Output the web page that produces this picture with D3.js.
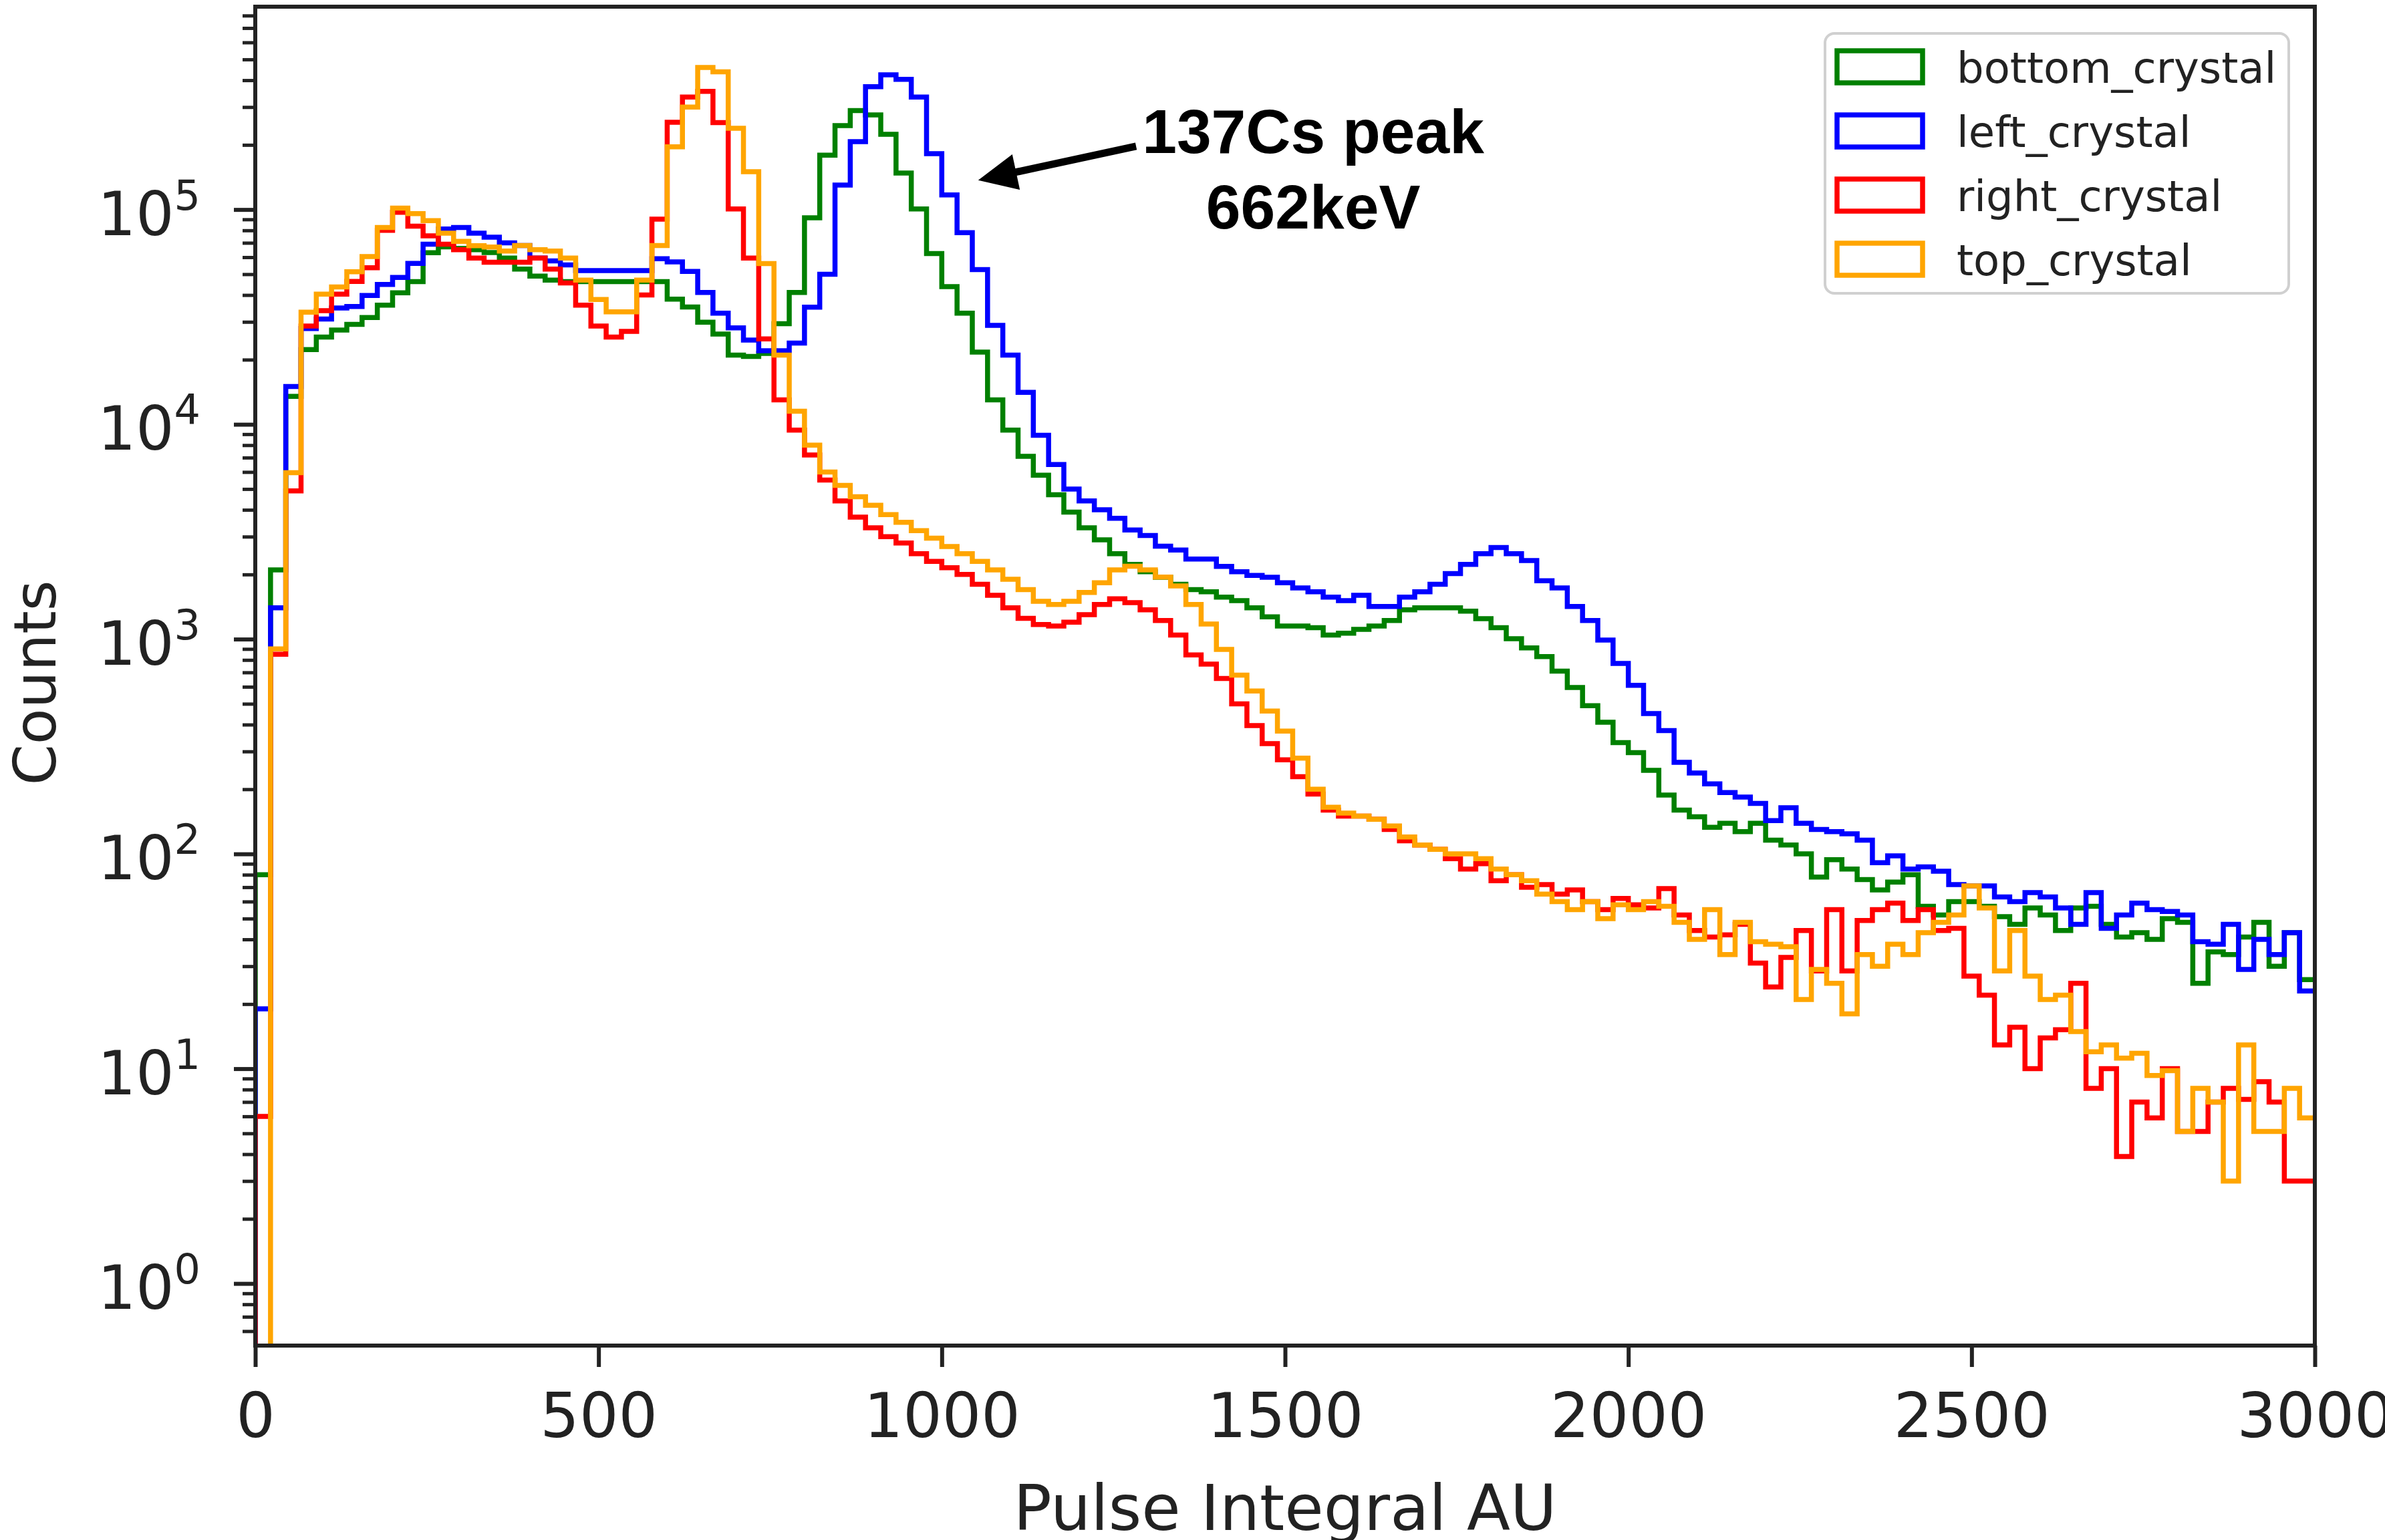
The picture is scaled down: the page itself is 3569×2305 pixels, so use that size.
<!DOCTYPE html>
<html>
<head>
<meta charset="utf-8">
<script src="https://cdn.jsdelivr.net/npm/d3@7"></script>
<style>
  html, body { margin: 0; padding: 0; background: #fff; }
  svg { display: block; }
</style>
</head>
<body>
<div id="chart"></div>
<script>
// histogram counts per bin, bins of 4000/180 AU starting at 0 (only 0..3000 shown)
var binWidth = 4000 / 180;

var bottomCrystal = [
  80, 2100, 13500, 22300, 25500, 27500, 29200, 31400, 35900, 41000,
  46200, 63000, 67000, 66000, 65000, 63100, 59400, 52800, 49000, 46900,
  46200, 46200, 46200, 46200, 46200, 46200, 46200, 38300, 35200, 29900,
  26300, 21000, 20700, 21400, 29400, 41100, 91500, 179000, 246000, 289000,
  276000, 224000, 148000, 100700, 62400, 43800, 32900, 21700, 13000, 9400,
  7100, 5800, 4700, 3900, 3300, 2900, 2500, 2230, 2060, 1940,
  1800, 1700, 1660, 1570, 1510, 1400, 1270, 1150, 1150, 1130,
  1045, 1065, 1110, 1150, 1220, 1370, 1400, 1400, 1400, 1350,
  1245, 1130, 1005, 910, 830, 710, 595, 490, 410, 330,
  296, 245, 188, 160, 149, 133, 139, 127, 139, 116,
  110, 100, 78, 94, 85, 76, 68, 74, 80, 57,
  52, 60, 60, 57, 51, 47, 56, 52, 44, 56,
  57, 47, 41, 43, 40, 50, 48, 25, 35, 34,
  41, 48, 30, 43, 26
];

var leftCrystal = [
  19, 1400, 15000, 27900, 30900, 34800, 35400, 39800, 44800, 48300,
  56100, 69000, 81200, 82500, 77600, 74300, 70000, 68000, 59400, 57700,
  55200, 52000, 52000, 52000, 52000, 52000, 59000, 57000, 51500, 41100,
  32900, 28100, 24700, 22000, 22000, 23900, 35100, 50000, 130000, 207000,
  373000, 424000, 404000, 334000, 182000, 117000, 78000, 52500, 28900, 21000,
  14100, 8900, 6500, 5000, 4400, 4000, 3650, 3220, 3040, 2710,
  2600, 2360, 2360, 2180, 2060, 1980, 1940, 1830, 1730, 1660,
  1570, 1510, 1600, 1420, 1420, 1570, 1660, 1800, 2020, 2230,
  2500, 2670, 2500, 2320, 1870, 1730, 1420, 1220, 990, 770,
  610, 450, 375, 267, 238, 212, 193, 184, 172, 143,
  164, 139, 130, 127, 124, 116, 91, 98, 85, 87,
  83, 72, 71, 71, 63, 60, 66, 63, 56, 47,
  66, 45, 52, 59, 55, 54, 52, 39, 38, 47,
  29, 40, 34, 43, 23
];

var rightCrystal = [
  6, 850, 4900, 28700, 33800, 40400, 46300, 53600, 80000, 97100,
  83700, 75400, 69000, 65000, 59400, 56800, 56800, 56800, 59400, 52800,
  45500, 35900, 28700, 25500, 27100, 40000, 90200, 255000, 334000, 355000,
  254000, 100700, 59400, 25000, 13000, 9400, 7200, 5500, 4400, 3700,
  3300, 3000, 2800, 2500, 2300, 2150, 2000, 1800, 1600, 1400,
  1250, 1170, 1150, 1200, 1300, 1450, 1540, 1480, 1370, 1220,
  1045, 845, 765, 656, 500, 396, 326, 274, 229, 190,
  160, 150, 150, 145, 130, 115, 110, 105, 95, 85,
  90, 75, 80, 70, 72, 65, 68, 60, 55, 62,
  58, 56, 69, 52, 44, 41, 42, 47, 31, 24,
  33, 44, 28.5, 55, 28.5, 49, 55, 59, 49, 55,
  44, 45, 27, 22, 12.9, 15.6, 10, 13.9, 15.2, 25,
  8.1, 10, 3.9, 7.0, 5.9, 10, 5.1, 5.1, 7.0, 8.1,
  7.2, 8.7, 7.0, 3.0, 3.0
];

var topCrystal = [
  0, 900, 5960, 33300, 40400, 43600, 51300, 60400, 82500, 101500,
  95700, 88800, 77600, 71100, 67900, 66900, 64100, 68000, 65000, 64100,
  59500, 46900, 38100, 33400, 33400, 46900, 68000, 196000, 300000, 459000,
  438000, 239000, 150000, 56000, 21000, 11500, 8000, 6000, 5200, 4600,
  4200, 3800, 3500, 3200, 2950, 2700, 2500, 2300, 2100, 1900,
  1700, 1500, 1450, 1500, 1650, 1830, 2100, 2185, 2100, 1945,
  1770, 1450, 1175, 895, 680, 573, 463, 373, 279, 200,
  165, 155, 150, 145, 135, 120, 110, 105, 100, 100,
  95, 85, 80, 75, 65, 60, 55, 60, 50, 58,
  55, 60, 57, 48, 40, 55, 34, 48, 39, 38,
  37, 21, 29, 25, 18, 34, 30, 38, 34, 43,
  48, 52, 71, 56, 28.5, 44, 27, 21, 22, 14.9,
  12, 12.9, 11.2, 11.8, 9.3, 9.8, 5.1, 8.1, 7.0, 3.0,
  12.9, 5.1, 5.1, 8.1, 5.9
];

var seriesNames = ['bottom_crystal', 'left_crystal', 'right_crystal', 'top_crystal'];
var seriesColors = ['green', 'blue', 'red', 'orange'];
var seriesValues = [bottomCrystal, leftCrystal, rightCrystal, topCrystal];

var xTicks = [0, 500, 1000, 1500, 2000, 2500, 3000];
var yTickExps = [0, 1, 2, 3, 4, 5];

// annotation, in data units
var noteLines = ['137Cs peak', '662keV'];
var noteAt = [1541, 1.84e5];
var arrowTip = [1053, 1.37e5];
var arrowFrom = [1283, 1.97e5];

var width = 3569;
var height = 2305;
var plot = { left: 382, right: 3464, top: 10, bottom: 2014 };
var dark = '#222';
var font = 'DejaVu Sans, sans-serif';

var svg = d3.select('#chart')
  .append('svg')
  .attr('width', width)
  .attr('height', height);

svg.append('rect')
  .attr('width', width)
  .attr('height', height)
  .attr('fill', '#fff');

var x = d3.scaleLinear()
  .domain([0, 3000])
  .range([plot.left, plot.right]);

var y = d3.scaleLog()
  .domain([0.514, 8.8e5])
  .range([plot.bottom, plot.top]);

svg.append('clipPath')
  .attr('id', 'plotclip')
  .append('rect')
  .attr('x', plot.left)
  .attr('y', plot.top)
  .attr('width', plot.right - plot.left)
  .attr('height', plot.bottom - plot.top);

// step outline like matplotlib histtype='step'
var stepLine = d3.line()
  .x(function(d) { return x(d[0]); })
  .y(function(d) { return y(Math.max(d[1], 0.25)); })
  .curve(d3.curveStepAfter);

function stepPoints(values) {
  var pts = [[0, 0]];
  values.forEach(function(v, i) {
    pts.push([i * binWidth, v]);
  });
  pts.push([values.length * binWidth, values[values.length - 1]]);
  return pts;
}

var g = svg.append('g').attr('clip-path', 'url(#plotclip)');

seriesValues.forEach(function(vals, i) {
  g.append('path')
    .attr('d', stepLine(stepPoints(vals)))
    .attr('fill', 'none')
    .attr('stroke', seriesColors[i])
    .attr('stroke-width', 7.5)
    .attr('stroke-linejoin', 'miter');
});

// x axis
var xAxis = svg.append('g')
  .attr('transform', 'translate(0,' + plot.bottom + ')')
  .attr('color', dark)
  .call(d3.axisBottom(x)
    .tickValues(xTicks)
    .tickSize(32)
    .tickPadding(40)
    .tickFormat(d3.format('d')));
xAxis.select('.domain').remove();
xAxis.selectAll('.tick line').attr('stroke-width', 6);
xAxis.selectAll('.tick text')
  .attr('font-family', font)
  .attr('font-size', 92)
  .attr('fill', dark);

// y axis, major + minor log ticks
var minorTicks = [];
for (var e = -1; e <= 5; e++) {
  for (var m = 2; m <= 9; m++) {
    var v = m * Math.pow(10, e);
    if (v >= y.domain()[0] && v <= y.domain()[1]) minorTicks.push(v);
  }
}

var yMinor = svg.append('g')
  .attr('transform', 'translate(' + plot.left + ',0)')
  .attr('color', dark)
  .call(d3.axisLeft(y).tickValues(minorTicks).tickSize(19).tickFormat(''));
yMinor.select('.domain').remove();
yMinor.selectAll('.tick line').attr('stroke-width', 5);

var yMajor = svg.append('g')
  .attr('transform', 'translate(' + plot.left + ',0)')
  .attr('color', dark)
  .call(d3.axisLeft(y)
    .tickValues(yTickExps.map(function(k) { return Math.pow(10, k); }))
    .tickSize(32)
    .tickFormat(''));
yMajor.select('.domain').remove();
yMajor.selectAll('.tick line').attr('stroke-width', 6);

var yLabels = svg.append('g')
  .selectAll('text')
  .data(yTickExps)
  .enter()
  .append('text')
  .attr('x', 300)
  .attr('y', function(k) { return y(Math.pow(10, k)) + 38; })
  .attr('text-anchor', 'end')
  .attr('font-family', font)
  .attr('fill', dark);
yLabels.append('tspan')
  .attr('font-size', 90)
  .text('10');
yLabels.append('tspan')
  .attr('font-size', 62)
  .attr('dy', -38)
  .text(function(k) { return k; });

// frame
svg.append('rect')
  .attr('x', plot.left)
  .attr('y', plot.top)
  .attr('width', plot.right - plot.left)
  .attr('height', plot.bottom - plot.top)
  .attr('fill', 'none')
  .attr('stroke', dark)
  .attr('stroke-width', 6);

// axis titles
svg.append('text')
  .attr('x', (plot.left + plot.right) / 2)
  .attr('y', 2290)
  .attr('text-anchor', 'middle')
  .attr('font-family', font)
  .attr('font-size', 95)
  .attr('fill', dark)
  .text('Pulse Integral AU');

svg.append('text')
  .attr('transform', 'translate(83,' + ((plot.top + plot.bottom) / 2 + 10) + ') rotate(-90)')
  .attr('text-anchor', 'middle')
  .attr('font-family', font)
  .attr('font-size', 88)
  .attr('fill', dark)
  .text('Counts');

// legend
var legend = svg.append('g').attr('transform', 'translate(2731,50)');
legend.append('rect')
  .attr('width', 694)
  .attr('height', 389)
  .attr('rx', 14)
  .attr('fill', '#fff')
  .attr('fill-opacity', 0.8)
  .attr('stroke', '#d0d0d0')
  .attr('stroke-width', 4);

var rows = legend.selectAll('.row')
  .data(seriesNames)
  .enter()
  .append('g')
  .attr('class', 'row')
  .attr('transform', function(d, i) { return 'translate(0,' + (50 + i * 96) + ')'; });

rows.append('rect')
  .attr('x', 18)
  .attr('y', -24)
  .attr('width', 128)
  .attr('height', 48)
  .attr('fill', 'none')
  .attr('stroke', function(d, i) { return seriesColors[i]; })
  .attr('stroke-width', 7.5);

rows.append('text')
  .attr('x', 197)
  .attr('y', 24)
  .attr('font-family', font)
  .attr('font-size', 64)
  .attr('fill', dark)
  .text(function(d) { return d; });

// annotation with arrow
var tip = [x(arrowTip[0]), y(arrowTip[1])];
var tail = [x(arrowFrom[0]), y(arrowFrom[1])];
var ang = Math.atan2(tip[1] - tail[1], tip[0] - tail[0]);
var headLen = 58, headHalf = 27;
var base = [tip[0] - headLen * Math.cos(ang), tip[1] - headLen * Math.sin(ang)];

svg.append('line')
  .attr('x1', tail[0])
  .attr('y1', tail[1])
  .attr('x2', base[0] + 8 * Math.cos(ang))
  .attr('y2', base[1] + 8 * Math.sin(ang))
  .attr('stroke', '#000')
  .attr('stroke-width', 11);

svg.append('polygon')
  .attr('points', [
    tip,
    [base[0] + headHalf * Math.sin(ang), base[1] - headHalf * Math.cos(ang)],
    [base[0] - headHalf * Math.sin(ang), base[1] + headHalf * Math.cos(ang)]
  ].map(function(p) { return p.join(','); }).join(' '))
  .attr('fill', '#000');

svg.append('g')
  .selectAll('text')
  .data(noteLines)
  .enter()
  .append('text')
  .attr('x', x(noteAt[0]))
  .attr('y', function(d, i) { return y(noteAt[1]) + i * 113; })
  .attr('text-anchor', 'middle')
  .attr('font-family', 'Liberation Sans, Arial, Helvetica, sans-serif')
  .attr('font-weight', 'bold')
  .attr('font-size', 93)
  .attr('fill', '#000')
  .text(function(d) { return d; });
</script>
</body>
</html>
